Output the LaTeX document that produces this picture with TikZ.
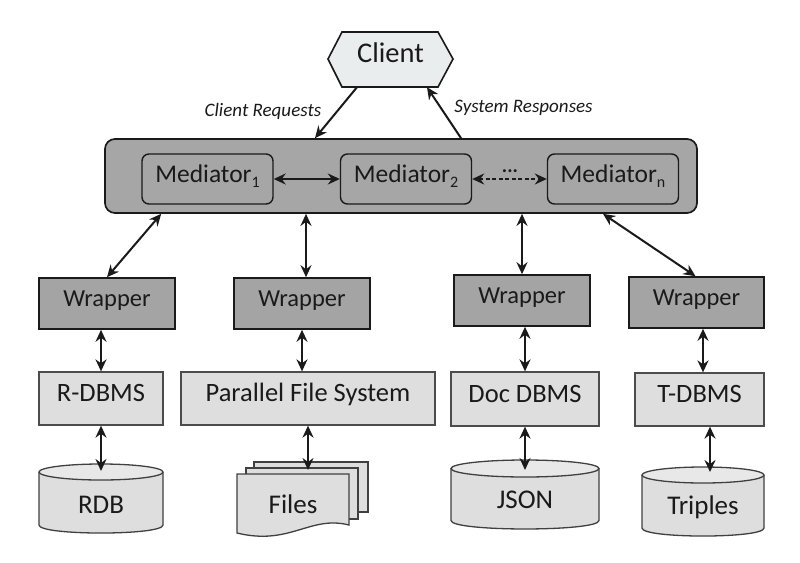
\documentclass[tikz,border=0pt]{standalone}
\usepackage{fontspec}
\setmainfont{Carlito}
\usetikzlibrary{arrows.meta,calc}
\definecolor{clientfill}{HTML}{E9EDED}
\definecolor{medfill}{HTML}{A6A6A6}
\definecolor{wrapfill}{HTML}{A4A4A4}
\definecolor{lightfill}{HTML}{DEDEDE}
\definecolor{cyltop}{HTML}{E8E8E8}
\definecolor{inkc}{HTML}{1A1A1A}
\newcommand\msub[1]{\raisebox{-5pt}{\fontsize{16}{16}\selectfont #1}}
\begin{document}
\begin{tikzpicture}[x=1pt,y=-1pt,
  every node/.style={text=inkc},
  capc/.style={text height=0.66em, text depth=0.02em, inner sep=0pt},
  outerbox/.style={draw=inkc, line width=1.7pt, fill=medfill, rounded corners=10pt},
  medbox/.style={capc, draw=inkc, line width=1.4pt, fill=medfill, rounded corners=7pt,
     minimum width=131pt, minimum height=50pt, font=\fontsize{25.5}{25.5}\selectfont},
  wrapbox/.style={capc, draw=inkc, line width=1.6pt, fill=wrapfill,
     minimum height=51pt, minimum width=136pt, font=\fontsize{24.5}{24.5}\selectfont},
  dbmsbox/.style={capc, draw=black!70, line width=1.3pt, fill=lightfill,
     minimum height=53pt, font=\fontsize{26.5}{26.5}\selectfont},
  dbtext/.style={inner sep=0pt, font=\fontsize{27}{27}\selectfont},
  lbl/.style={inner sep=0pt, font=\fontsize{19}{19}\selectfont\itshape},
  shapeline/.style={draw=black!75, line width=1.3pt},
  tip/.tip={Stealth[length=12pt,width=11pt,inset=4pt]},
  arr/.style={line width=2pt, draw=inkc, -tip},
  dbl/.style={line width=2pt, draw=inkc, tip-tip}
]
\useasboundingbox (0,0) rectangle (800,562);
\fill[white] (0,0) rectangle (800,562);

% Client hexagon
\draw[fill=clientfill, draw=inkc, line width=1.6pt]
  (328,59) -- (342,32) -- (438,32) -- (453,59) -- (438,87) -- (342,87) -- cycle;
\node[capc, minimum width=125pt, minimum height=55pt, font=\fontsize{28.5}{28.5}\selectfont] (client) at (390.5,59.5) {Client};

% Mediator layer
\node[outerbox, minimum width=592pt, minimum height=74pt] (med) at (401,176) {};
\node[medbox] (m1) at (207.5,179) {Mediator\msub{1}};
\node[medbox] (m2) at (406,179) {Mediator\msub{2}};
\node[medbox] (mn) at (613,179) {Mediator\msub{n}};
\draw[dbl] (m1.east) -- (m2.west);
\draw[dbl, dash pattern=on 4pt off 2.5pt] (m2.east) -- (mn.west);
\node[inner sep=0pt, anchor=base, font=\fontsize{20}{20}\selectfont\bfseries] (dots) at (510,172) {...};

% Client arrows
\draw[arr] ($(client.south)+(-33.5,0)$) -- ($(med.north)+(-86,0)$);
\draw[arr] ($(med.north)+(60,0)$) -- ($(client.south)+(36.5,0)$);
\node[lbl] (req) at (263,111) {Client Requests};
\node[lbl] (resp) at (523.5,108) {System Responses};

% Wrappers
\node[wrapbox] (w1) at (107,303.5) {Wrapper};
\node[wrapbox] (w2) at (302,303.5) {Wrapper};
\node[wrapbox] (w3) at (522,300.5) {Wrapper};
\node[wrapbox, minimum width=135pt] (w4) at (696.5,302.5) {Wrapper};

\draw[dbl] ($(med.south west)+(57,0)$) -- (w1.north);
\draw[dbl] ($(med.south)+(-95,0)$) -- ($(w2.north)+(4,0)$);
\draw[dbl] ($(med.south)+(121,0)$) -- (w3.north);
\draw[dbl] ($(med.south)+(202,0)$) -- ($(w4.north)+(-1,0)$);

% DBMS row
\node[dbmsbox, minimum width=124pt] (rdbms) at (101,398.5) {R-DBMS};
\node[dbmsbox, minimum width=254pt] (pfs) at (308,398.5) {Parallel File System};
\node[dbmsbox, minimum width=148pt, minimum height=54pt] (doc) at (525,399) {Doc DBMS};
\node[dbmsbox, minimum width=129pt] (tdbms) at (699.5,399.5) {T-DBMS};

\draw[dbl] (w1.south -| rdbms.north) -- (rdbms.north);
\draw[dbl] (w2.south) -- (w2.south |- pfs.north);
\draw[dbl] (w3.south -| doc.north) -- (doc.north);
\draw[dbl] ($(w4.south)+(6.5,0)$) -- ($(w4.south |- tdbms.north)+(6.5,0)$);

% Cylinders
% RDB
\draw[shapeline, fill=lightfill] (39,472) -- (39,525) .. controls (39,535.7) and (163,535.7) .. (163,525) -- (163,472);
\draw[shapeline, fill=cyltop] (101,472) ellipse [x radius=62pt, y radius=8pt];
% JSON
\draw[shapeline, fill=lightfill] (451,468.5) -- (451,520.5) .. controls (451,531.8) and (599,531.8) .. (599,520.5) -- (599,468.5);
\draw[shapeline, fill=cyltop] (525,468.5) ellipse [x radius=74pt, y radius=8.5pt];
% Triples
\draw[shapeline, fill=lightfill] (642,475) -- (642,528) .. controls (642,538.7) and (764,538.7) .. (764,528) -- (764,475);
\draw[shapeline, fill=cyltop] (703,475) ellipse [x radius=61pt, y radius=8pt];

% Files (stacked documents)
\draw[shapeline, fill=lightfill] (254,462) rectangle (368,512);
\draw[shapeline, fill=lightfill] (246,468) rectangle (358,519);
\draw[shapeline, fill=lightfill] (237,474) -- (349,474) -- (349,525)
   .. controls (310,515) and (290,546) .. (237,533) -- cycle;

\node[dbtext, anchor=base] (rdb) at (101,513) {RDB};
\node[dbtext, anchor=base] (json) at (525,508) {JSON};
\node[dbtext, anchor=base] (triples) at (703,514) {Triples};
\node[dbtext, anchor=base] (files) at (293,513) {Files};

\coordinate (rdbtop) at (101,471);
\coordinate (filestop) at (308,470);
\coordinate (jsontop) at (525,470);
\coordinate (tripletop) at (710,472);

\draw[dbl] (rdbms.south) -- (rdbtop);
\draw[dbl] (pfs.south) -- (filestop);
\draw[dbl] (doc.south) -- (jsontop);
\draw[dbl] (tdbms.south -| tripletop) -- (tripletop);
\end{tikzpicture}
\end{document}
